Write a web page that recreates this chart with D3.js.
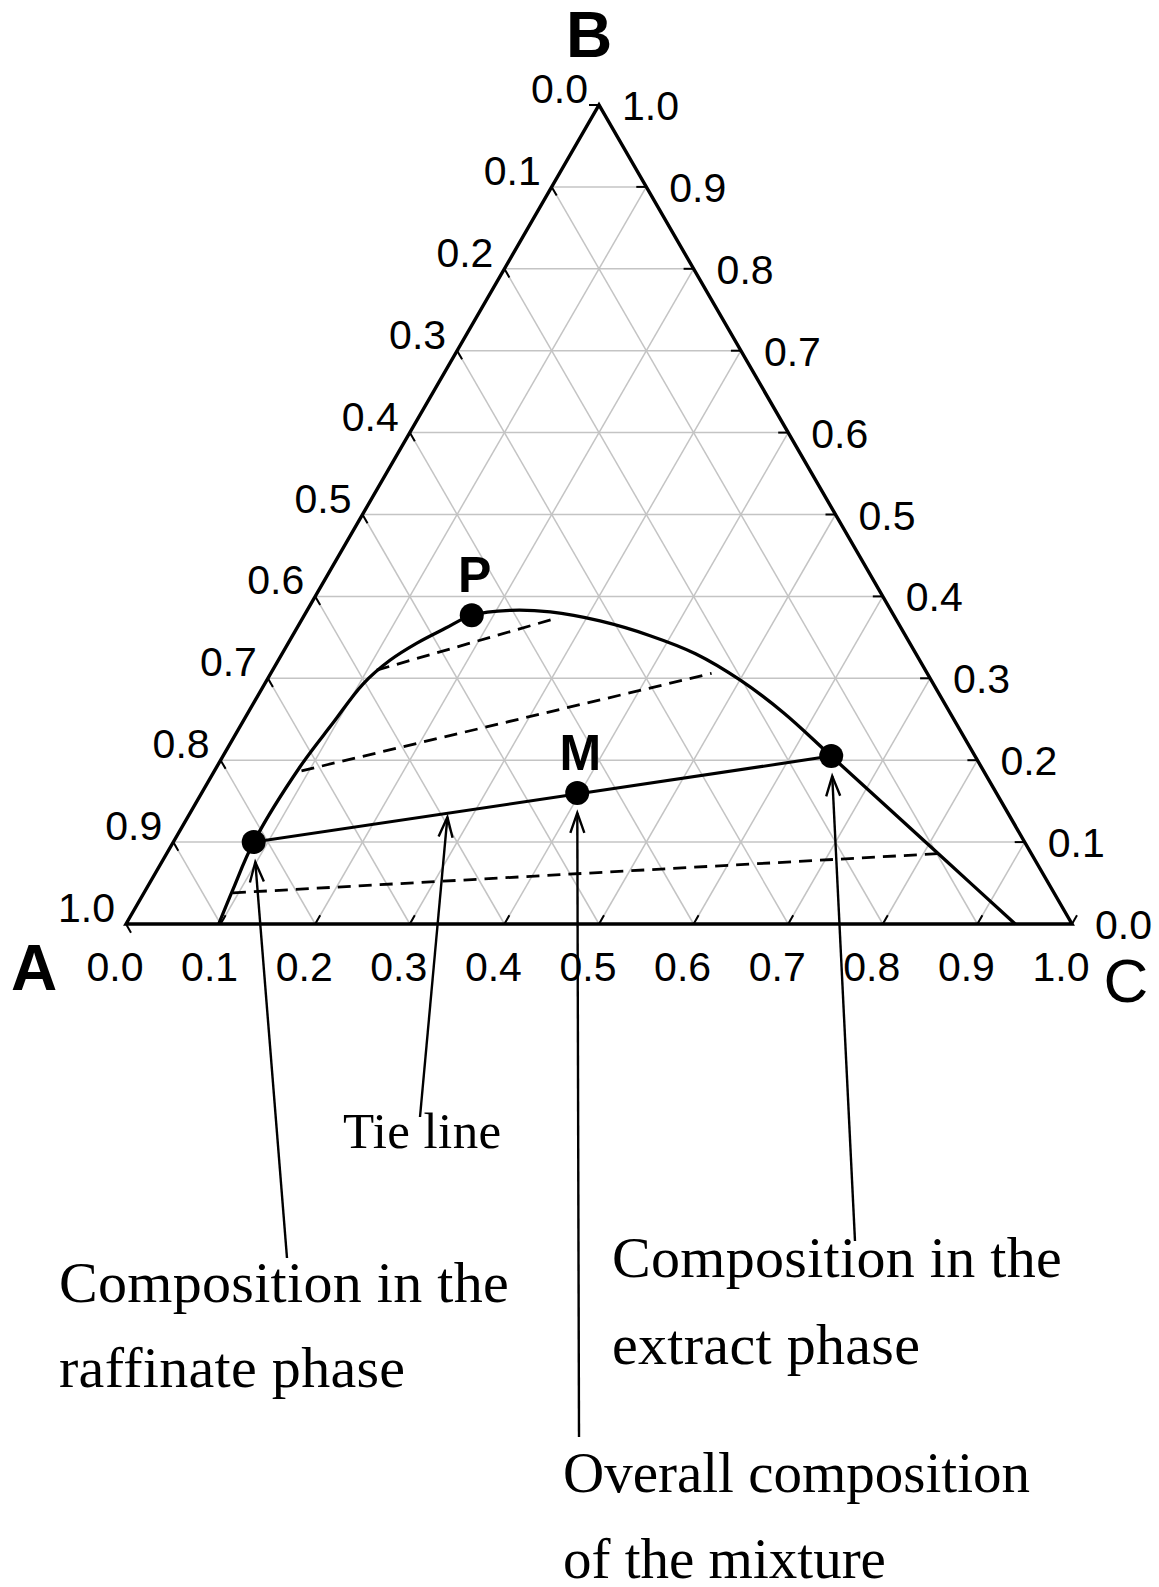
<!DOCTYPE html>
<html>
<head>
<meta charset="utf-8">
<script src="https://cdn.jsdelivr.net/npm/d3@7"></script>
<style>
  body { margin: 0; background: #fff; }
  svg { display: block; }
</style>
</head>
<body>
<svg id="chart" width="1159" height="1587"></svg>
<script>
// Ternary diagram: C fraction along the base, B fraction as height, A = 1 - B - C.
const gridSteps = [0.1, 0.2, 0.3, 0.4, 0.5, 0.6, 0.7, 0.8, 0.9];
const tickValues = [0, 0.1, 0.2, 0.3, 0.4, 0.5, 0.6, 0.7, 0.8, 0.9, 1.0];

// Binodal (solubility) curve, points as [C, B]
const binodal = [
  [0.098, 0.000], [0.092, 0.042], [0.085, 0.100], [0.088, 0.192],
  [0.096, 0.245], [0.104, 0.293], [0.118, 0.322], [0.136, 0.343],
  [0.157, 0.361], [0.177, 0.377], [0.215, 0.383], [0.258, 0.381],
  [0.316, 0.370], [0.378, 0.352], [0.437, 0.330], [0.500, 0.298],
  [0.566, 0.258], [0.643, 0.205], [0.830, 0.076], [0.940, 0.000]
];

// Dashed tie lines, [raffinate end, extract end] as [C, B]
const tieLines = [
  [[0.110, 0.310], [0.270, 0.374]],
  [[0.092, 0.187], [0.466, 0.306]],
  [[0.094, 0.038], [0.817, 0.086]]
];

// Highlighted compositions [C, B]
const raffinate = [0.085, 0.100];
const extract = [0.643, 0.205];
const mixture = [0.397, 0.160];
const plaitPoint = [0.177, 0.377];

const pointLabels = [
  { name: "P", at: plaitPoint },
  { name: "M", at: mixture }
];

const vertexLabels = [
  { name: "A", corner: [0, 0] },
  { name: "B", corner: [0, 1] },
  { name: "C", corner: [1, 0] }
];

const svg = d3.select("#chart");
const x = d3.scaleLinear().domain([0, 1]).range([126, 1072]);
const y = d3.scaleLinear().domain([0, 1]).range([924, 105]);
const fmt = d3.format(".1f");

// [C, B] -> screen
const proj = ([c, b]) => [x(c + b / 2), y(b)];
const line = d3.line();

// ---------- grid ----------
const grid = svg.append("g")
  .attr("stroke", "#c4c4c4")
  .attr("stroke-width", 1.5)
  .attr("fill", "none");

// constant B (horizontal)
grid.selectAll("path.gb").data(gridSteps).join("path")
  .attr("class", "gb")
  .attr("d", v => line([proj([0, v]), proj([1 - v, v])]));
// constant C (parallel to AB)
grid.selectAll("path.gc").data(gridSteps).join("path")
  .attr("class", "gc")
  .attr("d", v => line([proj([v, 0]), proj([v, 1 - v])]));
// constant A (parallel to BC)
grid.selectAll("path.ga").data(gridSteps).join("path")
  .attr("class", "ga")
  .attr("d", v => line([proj([1 - v, 0]), proj([0, 1 - v])]));

// ---------- triangle ----------
svg.append("path")
  .attr("d", line([proj([0, 0]), proj([1, 0]), proj([0, 1])]) + "Z")
  .attr("fill", "none")
  .attr("stroke", "#000")
  .attr("stroke-width", 3.4)
  .attr("stroke-linejoin", "miter");

// ---------- ticks ----------
const tickLen = 10;
const ticks = svg.append("g").attr("stroke", "#000").attr("stroke-width", 2);
// left edge (A fraction), tick along constant-A direction
ticks.selectAll("line.tl").data(tickValues).join("line")
  .attr("class", "tl")
  .attr("x1", v => proj([0, v])[0]).attr("y1", v => proj([0, v])[1])
  .attr("x2", v => proj([0, v])[0] + tickLen * 0.5)
  .attr("y2", v => proj([0, v])[1] + tickLen * 0.866);
// bottom edge (C fraction), tick along constant-C direction
ticks.selectAll("line.tb").data(tickValues).join("line")
  .attr("class", "tb")
  .attr("x1", v => proj([v, 0])[0]).attr("y1", v => proj([v, 0])[1])
  .attr("x2", v => proj([v, 0])[0] + tickLen * 0.5)
  .attr("y2", v => proj([v, 0])[1] - tickLen * 0.866);
// right edge (B fraction), horizontal tick
ticks.selectAll("line.tr").data(tickValues).join("line")
  .attr("class", "tr")
  .attr("x1", v => proj([1 - v, v])[0]).attr("y1", v => proj([1 - v, v])[1])
  .attr("x2", v => proj([1 - v, v])[0] - tickLen)
  .attr("y2", v => proj([1 - v, v])[1]);

// ---------- tick labels ----------
const labels = svg.append("g")
  .attr("font-family", "'Liberation Sans', Arial, sans-serif")
  .attr("font-size", 41)
  .attr("fill", "#000");

labels.selectAll("text.ll").data(tickValues).join("text")
  .attr("class", "ll")
  .attr("text-anchor", "end")
  .attr("x", v => proj([0, v])[0] - 11)
  .attr("y", v => proj([0, v])[1] - 2)
  .text(v => fmt(1 - v));

labels.selectAll("text.lr").data(tickValues).join("text")
  .attr("class", "lr")
  .attr("text-anchor", "start")
  .attr("x", v => proj([1 - v, v])[0] + 23)
  .attr("y", v => proj([1 - v, v])[1] + 15)
  .text(v => fmt(v));

labels.selectAll("text.lb").data(tickValues).join("text")
  .attr("class", "lb")
  .attr("text-anchor", "middle")
  .attr("x", v => proj([v, 0])[0] - 11)
  .attr("y", v => proj([v, 0])[1] + 57)
  .text(v => fmt(v));

// ---------- vertex names ----------
const vOffset = { A: [-92, 66], B: [-10, -48], C: [54, 78] };
svg.append("g")
  .attr("font-family", "'Liberation Sans', Arial, sans-serif")
  .attr("text-anchor", "middle")
  .selectAll("text").data(vertexLabels).join("text")
  .attr("x", d => proj(d.corner)[0] + vOffset[d.name][0])
  .attr("y", d => proj(d.corner)[1] + vOffset[d.name][1])
  .attr("font-size", d => d.name === "C" ? 62 : 64)
  .attr("font-weight", d => d.name === "C" ? "normal" : "bold")
  .text(d => d.name);

// ---------- dashed tie lines ----------
svg.append("g")
  .selectAll("path").data(tieLines).join("path")
  .attr("d", d => line(d.map(proj)))
  .attr("fill", "none")
  .attr("stroke", "#000")
  .attr("stroke-width", 2.8)
  .attr("stroke-dasharray", "13,8");

// ---------- binodal curve ----------
svg.append("path")
  .attr("d", d3.line().curve(d3.curveCatmullRom.alpha(0.5))(binodal.map(proj)))
  .attr("fill", "none")
  .attr("stroke", "#000")
  .attr("stroke-width", 3.3);

// ---------- solid tie line through M ----------
svg.append("path")
  .attr("d", line([raffinate, extract].map(proj)))
  .attr("fill", "none")
  .attr("stroke", "#000")
  .attr("stroke-width", 3);

// ---------- points ----------
svg.append("g")
  .selectAll("circle").data([raffinate, extract, mixture, plaitPoint]).join("circle")
  .attr("cx", d => proj(d)[0])
  .attr("cy", d => proj(d)[1])
  .attr("r", 12)
  .attr("fill", "#000");

svg.append("g")
  .attr("font-family", "'Liberation Sans', Arial, sans-serif")
  .attr("font-weight", "bold")
  .attr("font-size", 50)
  .attr("text-anchor", "middle")
  .selectAll("text").data(pointLabels).join("text")
  .attr("x", d => proj(d.at)[0] + 3)
  .attr("y", d => proj(d.at)[1] - 23)
  .text(d => d.name);

// ---------- annotations ----------
function tieLinePoint(t) {
  const a = proj(raffinate), b = proj(extract);
  return [a[0] + (b[0] - a[0]) * t, a[1] + (b[1] - a[1]) * t];
}

const annotations = [
  { target: proj(raffinate), gap: 20, tail: [287, 1258] },
  { target: tieLinePoint(0.336), gap: 4, tail: [420, 1117] },
  { target: proj(mixture), gap: 20, tail: [579, 1437] },
  { target: proj(extract), gap: 20, tail: [855, 1241] }
];

const ann = svg.append("g")
  .attr("stroke", "#000")
  .attr("stroke-width", 2.4)
  .attr("fill", "none");

annotations.forEach(a => {
  const dx = a.tail[0] - a.target[0], dy = a.tail[1] - a.target[1];
  const len = Math.hypot(dx, dy);
  const ux = dx / len, uy = dy / len;
  const tip = [a.target[0] + ux * a.gap, a.target[1] + uy * a.gap];
  ann.append("path").attr("d", line([tip, a.tail]));
  const headLen = 20, half = 7;
  const base = [tip[0] + ux * headLen, tip[1] + uy * headLen];
  const px = -uy, py = ux;
  ann.append("path")
    .attr("d", line([
      [base[0] + px * half, base[1] + py * half],
      tip,
      [base[0] - px * half, base[1] - py * half]
    ]))
    .attr("stroke-linejoin", "miter");
});

const notes = [
  { lines: ["Tie line"], x: 343, y: 1148, size: 51, gap: 0, spacing: 0.4 },
  { lines: ["Composition in the", "raffinate phase"], x: 59, y: 1302, size: 58, gap: 85, spacing: 0.3 },
  { lines: ["Composition in the", "extract phase"], x: 612, y: 1277, size: 58, gap: 87, spacing: 0.3 },
  { lines: ["Overall composition", "of the mixture"], x: 563, y: 1492, size: 57, gap: 86, spacing: 0 }
];

const noteG = svg.append("g")
  .attr("font-family", "'Liberation Serif', 'Times New Roman', serif")
  .attr("fill", "#000");

notes.forEach(n => {
  n.lines.forEach((t, i) => {
    noteG.append("text")
      .attr("x", n.x)
      .attr("y", n.y + i * n.gap)
      .attr("font-size", n.size)
      .attr("letter-spacing", n.spacing)
      .text(t);
  });
});
</script>
</body>
</html>
